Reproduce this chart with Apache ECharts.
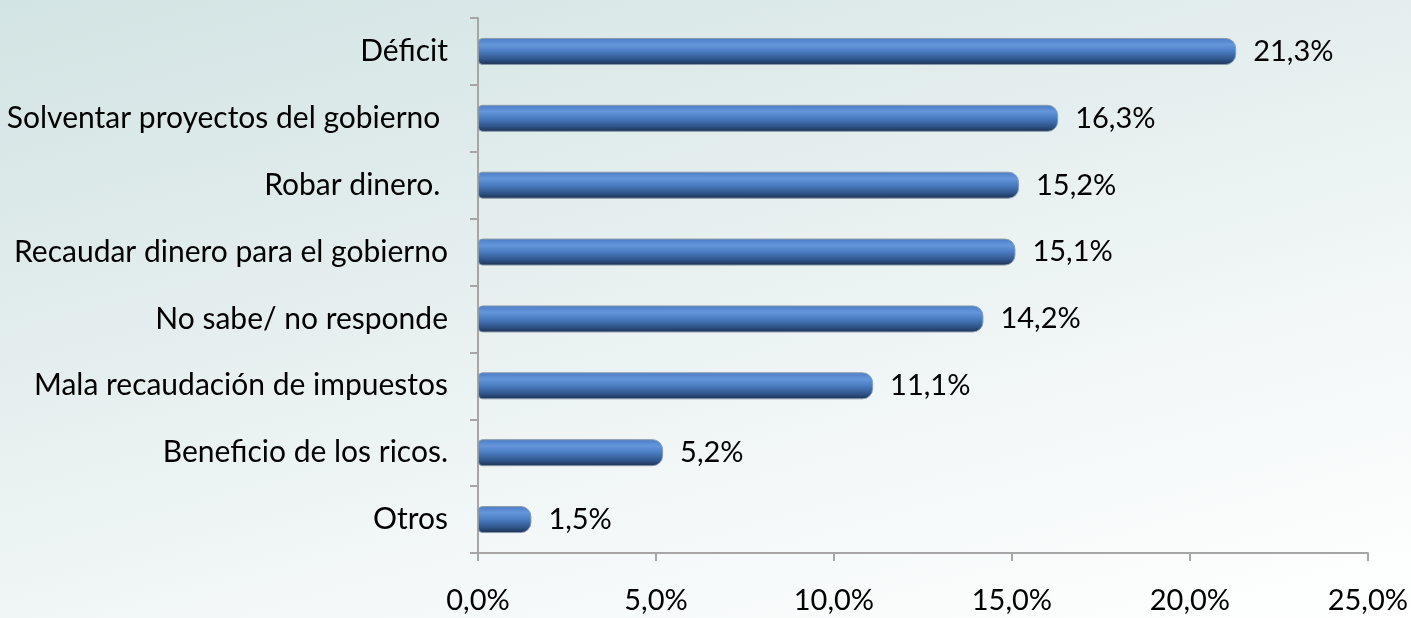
<!DOCTYPE html>
<html><head><meta charset="utf-8">
<script src="https://cdn.jsdelivr.net/npm/echarts@6/dist/echarts.min.js"></script>
<style>html,body{margin:0;padding:0;}#c{width:1411px;height:618px;background:linear-gradient(165deg,#d2e4e3 0%,#e3eded 35%,#f4f8f8 70%,#ffffff 100%);}</style>
</head><body><div id="c"></div>
<script>
const categories = ['Déficit','Solventar proyectos del gobierno ','Robar dinero. ','Recaudar dinero para el gobierno','No sabe/ no responde','Mala recaudación de impuestos','Beneficio de los ricos.','Otros'];
const values = [21.3,16.3,15.2,15.1,14.2,11.1,5.2,1.5];
const xTicks = [0,5,10,15,20,25];
const fmt = v => v.toFixed(1).replace('.', ',') + '%';
const chart = echarts.init(document.getElementById('c'), null, {renderer:'canvas'});
const font = 'Lato, sans-serif';
chart.setOption({
  animation:false,
  grid:{left:478,right:43,top:18,bottom:65,containLabel:false},
  xAxis:{type:'value',min:xTicks[0],max:xTicks[xTicks.length-1],interval:5,
    axisLine:{show:true,lineStyle:{color:'#a6a6a6',width:2}},
    axisTick:{show:true,length:8,lineStyle:{color:'#a6a6a6',width:2}},
    splitLine:{show:false},
    axisLabel:{formatter:fmt,color:'#000',fontSize:29,fontFamily:font,margin:33}},
  yAxis:{type:'category',inverse:true,data:categories,
    axisLine:{show:true,lineStyle:{color:'#a6a6a6',width:2}},
    axisTick:{show:true,length:8,lineStyle:{color:'#a6a6a6',width:2}},
    axisLabel:{color:'#000',fontSize:30,fontFamily:font,margin:30}},
  series:[{type:'bar',data:values,barWidth:27,
    itemStyle:{borderRadius:[4,10,10,4],
      color:new echarts.graphic.LinearGradient(0,0,0,1,[
        {offset:0,color:'#4a7cc4'},{offset:0.25,color:'#6596dc'},{offset:0.5,color:'#4a7cc2'},
        {offset:0.8,color:'#2f5488'},{offset:1,color:'#1c3050'}]),
      borderColor:'#8a9aab',borderWidth:1},
    label:{show:true,position:'right',distance:17,formatter:p=>fmt(p.value),color:'#000',fontSize:29,fontFamily:font}}]
});
</script></body></html>
